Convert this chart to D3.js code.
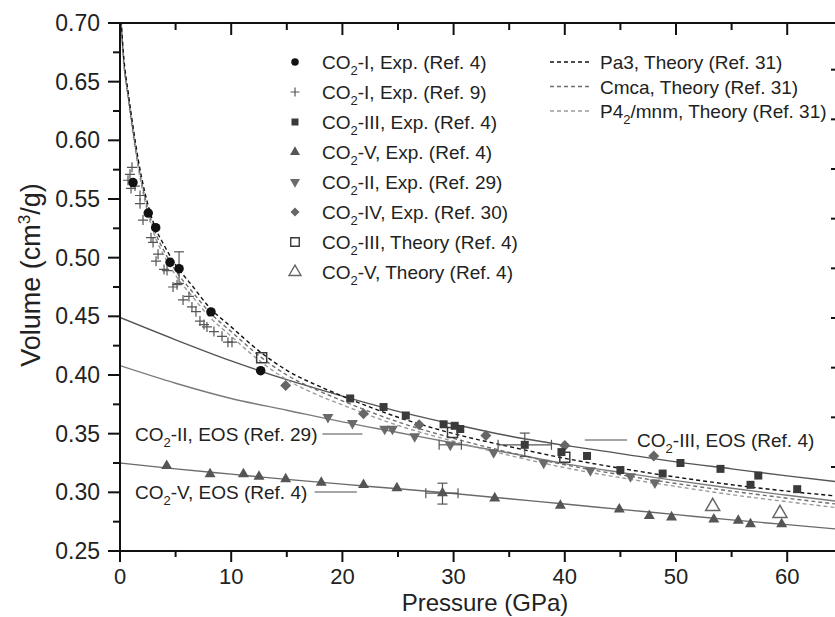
<!DOCTYPE html>
<html>
<head>
<meta charset="utf-8">
<script src="https://cdn.jsdelivr.net/npm/d3@7"></script>
<style>
    body { margin: 0; background: #fff; }
    svg text { font-family: "Liberation Sans", Arial, Helvetica, sans-serif; fill: #222; }
</style>
</head>
<body>
<div id="chart"></div>
<script>

// ---- data (pressure GPa, volume cm3/g) ----

let co2I_ref4 = [[1.17, 0.564], [2.54, 0.538], [3.21, 0.5256], [4.5, 0.496], [5.31, 0.4906], [8.18, 0.4538], [12.65, 0.4037]];

let co2I_ref9 = [[1.08, 0.577], [0.90, 0.571], [0.72, 0.566], [0.99, 0.559], [1.35, 0.561], [1.80, 0.553], [1.80, 0.546],
    [2.07, 0.532], [2.79, 0.517], [2.97, 0.513], [3.42, 0.503], [3.24, 0.497], [3.96, 0.490], [4.23, 0.489],
    [4.77, 0.475], [5.13, 0.477], [5.67, 0.464], [6.2, 0.467], [6.47, 0.458], [6.83, 0.454], [7.19, 0.446],
    [7.55, 0.443], [7.82, 0.441], [8.45, 0.437], [9.17, 0.433], [9.71, 0.428], [10.07, 0.428]];

let co2III_exp = [[20.7, 0.380], [23.7, 0.3727], [25.7, 0.3655], [29.1, 0.358], [30.1, 0.3567], [30.6, 0.354],
    [36.4, 0.3405], [39.7, 0.3343], [42.0, 0.331], [45.0, 0.319], [48.8, 0.316], [50.4, 0.325], [54.0, 0.320],
    [56.7, 0.3064], [57.4, 0.3143], [60.9, 0.3027]];

let co2V_exp = [[4.2, 0.3226], [8.1, 0.3155], [11.1, 0.3155], [12.5, 0.3135], [14.9, 0.3112], [18.1, 0.3083],
    [21.9, 0.3064], [24.9, 0.3036], [29.0, 0.2993], [33.7, 0.295], [39.6, 0.2887], [44.9, 0.2856], [47.6, 0.280],
    [49.6, 0.2788], [53.4, 0.277], [55.6, 0.2759], [56.7, 0.273], [59.5, 0.273]];

let co2II_exp = [[18.7, 0.364], [20.9, 0.359], [23.8, 0.354], [24.5, 0.354], [26.5, 0.3476], [29.7, 0.3405],
    [33.6, 0.334], [38.1, 0.325], [42.3, 0.3186], [45.9, 0.3135], [48.1, 0.3083]];

let co2IV_exp = [[14.9, 0.391], [21.9, 0.367], [26.9, 0.3576], [32.9, 0.3485], [40.0, 0.340], [48.0, 0.331]];

let co2III_theory = [[12.74, 0.4146], [29.9, 0.351], [40.0, 0.330]];
let co2V_theory = [[53.3, 0.288], [59.35, 0.282]];

// error bars: [P, V, P low, P high, V low, V high]
let errorBars = [
    [5.31, 0.4906, null, null, 0.478, 0.505],
    [29.7, 0.3405, 28.7, 30.7, null, null],
    [36.4, 0.3405, 34.0, 38.8, 0.3305, 0.3505],
    [29.0, 0.2993, 27.5, 30.4, 0.290, 0.3078]
];

// EOS fits (solid)
let eosIII = [[0, 0.449], [5, 0.430], [10, 0.412], [15, 0.396], [20, 0.382], [25, 0.369], [30, 0.358], [35, 0.348],
    [40, 0.340], [45, 0.333], [50, 0.326], [55, 0.320], [60, 0.314], [70, 0.303]];
let eosII = [[0, 0.408], [5, 0.393], [10, 0.380], [15, 0.370], [20, 0.360], [25, 0.351], [30, 0.342], [35, 0.3335],
    [40, 0.3245], [45, 0.317], [50, 0.310], [55, 0.3035], [60, 0.2975], [70, 0.286]];
let eosV = [[0, 0.325], [5, 0.320], [10, 0.3155], [15, 0.311], [20, 0.307], [25, 0.303], [30, 0.299], [35, 0.2945],
    [40, 0.290], [45, 0.2855], [50, 0.281], [55, 0.2765], [60, 0.2725], [70, 0.264]];

// theory Ref. 31 (dashed)
let pa3 = [[0, 0.720], [0.3, 0.675], [0.75, 0.640], [1.2, 0.610], [1.65, 0.583], [2.25, 0.555], [3, 0.530], [4, 0.510],
    [5, 0.494], [6.5, 0.476], [8, 0.458], [10, 0.441], [12.7, 0.419], [15, 0.404], [18, 0.390], [20, 0.382],
    [25, 0.364], [30, 0.350], [35, 0.339], [40, 0.329], [45, 0.3205], [50, 0.313], [55, 0.3065], [60, 0.301], [70, 0.2925]];
let cmca = [[0, 0.718], [0.3, 0.672], [0.75, 0.637], [1.2, 0.606], [1.65, 0.579], [2.25, 0.551], [3, 0.526], [4, 0.505],
    [5, 0.489], [6.5, 0.471], [8, 0.454], [10, 0.437], [12.7, 0.415], [15, 0.400], [18, 0.386], [20, 0.378],
    [25, 0.360], [30, 0.346], [35, 0.334], [40, 0.3235], [45, 0.315], [50, 0.3075], [55, 0.301], [60, 0.295], [70, 0.284]];
let p42 = [[0, 0.716], [0.3, 0.669], [0.75, 0.634], [1.2, 0.603], [1.65, 0.576], [2.25, 0.548], [3, 0.522], [4, 0.501],
    [5, 0.485], [6.5, 0.467], [8, 0.450], [10, 0.433], [12.7, 0.411], [15, 0.396], [18, 0.382], [20, 0.3745],
    [25, 0.357], [30, 0.3435], [35, 0.3315], [40, 0.321], [45, 0.3125], [50, 0.305], [55, 0.298], [60, 0.292], [70, 0.281]];

// axis ticks
let xTicks = [0, 10, 20, 30, 40, 50, 60, 70];
let xMinor = [5, 15, 25, 35, 45, 55, 65];
let yTicks = [0.25, 0.30, 0.35, 0.40, 0.45, 0.50, 0.55, 0.60, 0.65, 0.70];
let yMinor = [0.275, 0.325, 0.375, 0.425, 0.475, 0.525, 0.575, 0.625, 0.675];
let rightTicks = [1, 2, 3, 4, 5, 6, 7, 8, 9];

// ---- drawing ----

let width = 835, height = 617;
let margin = {left: 120, top: 23, bottom: 551};

let svg = d3.select("#chart").append("svg")
    .attr("width", width)
    .attr("height", height);

let x = d3.scaleLinear().domain([0, 70]).range([margin.left, margin.left + 70 * 11.12]);
let y = d3.scaleLinear().domain([0.25, 0.70]).range([margin.bottom, margin.top]);
let yRight = d3.scaleLinear().domain([0, 9]).range([20, 467]);

svg.append("clipPath").attr("id", "plotClip")
    .append("rect")
    .attr("x", x(0)).attr("y", y(0.70))
    .attr("width", x(70) - x(0)).attr("height", y(0.25) - y(0.70));

let plot = svg.append("g").attr("clip-path", "url(#plotClip)");

let line = d3.line()
    .x(d => x(d[0]))
    .y(d => y(d[1]))
    .curve(d3.curveMonotoneX);

// solid EOS curves
[[eosIII, "#555"], [eosII, "#7a7a7a"], [eosV, "#6a6a6a"]].forEach(c => {
    plot.append("path")
        .attr("d", line(c[0]))
        .attr("fill", "none")
        .attr("stroke", c[1])
        .attr("stroke-width", 1.4);
});

// dashed theory curves
[[p42, "#9a9a9a"], [cmca, "#6e6e6e"], [pa3, "#111"]].forEach(c => {
    plot.append("path")
        .attr("d", line(c[0]))
        .attr("fill", "none")
        .attr("stroke", c[1])
        .attr("stroke-width", 1.4)
        .attr("stroke-dasharray", "4,3");
});

// error bars
let errG = plot.append("g").attr("stroke", "#555").attr("stroke-width", 1.2);
errorBars.forEach(e => {
    if (e[2] !== null) {
        errG.append("line").attr("x1", x(e[2])).attr("x2", x(e[3])).attr("y1", y(e[1])).attr("y2", y(e[1]));
        errG.append("line").attr("x1", x(e[2])).attr("x2", x(e[2])).attr("y1", y(e[1]) - 5).attr("y2", y(e[1]) + 5);
        errG.append("line").attr("x1", x(e[3])).attr("x2", x(e[3])).attr("y1", y(e[1]) - 5).attr("y2", y(e[1]) + 5);
    }
    if (e[4] !== null) {
        errG.append("line").attr("x1", x(e[0])).attr("x2", x(e[0])).attr("y1", y(e[4])).attr("y2", y(e[5]));
        errG.append("line").attr("x1", x(e[0]) - 5).attr("x2", x(e[0]) + 5).attr("y1", y(e[4])).attr("y2", y(e[4]));
        errG.append("line").attr("x1", x(e[0]) - 5).attr("x2", x(e[0]) + 5).attr("y1", y(e[5])).attr("y2", y(e[5]));
    }
});

// marker shapes
let markers = {
    circle: s => d3.symbol(d3.symbolCircle, s * s * 0.785)(),
    square: s => d3.symbol(d3.symbolSquare, s * s)(),
    triUp: s => d3.symbol(d3.symbolTriangle, s * s * 0.433)(),
    triDown: s => d3.symbol(d3.symbolTriangle, s * s * 0.433)(),
    diamond: s => `M0,${-s / 2}L${s / 2},0L0,${s / 2}L${-s / 2},0Z`,
    plus: s => `M${-s / 2},0H${s / 2}M0,${-s / 2}V${s / 2}`
};

let series = [
    {data: co2I_ref9, shape: "plus", size: 10, fill: "none", stroke: "#555", sw: 1.2},
    {data: co2V_exp, shape: "triUp", size: 11, fill: "#555", stroke: "none"},
    {data: co2II_exp, shape: "triDown", size: 11, fill: "#6a6a6a", stroke: "none"},
    {data: co2IV_exp, shape: "diamond", size: 11, fill: "#666", stroke: "none"},
    {data: co2III_exp, shape: "square", size: 8, fill: "#3a3a3a", stroke: "none"},
    {data: co2I_ref4, shape: "circle", size: 9.5, fill: "#111", stroke: "none"},
    {data: co2III_theory, shape: "square", size: 10, fill: "none", stroke: "#3a3a3a", sw: 1.5},
    {data: co2V_theory, shape: "triUp", size: 14, fill: "none", stroke: "#666", sw: 1.5}
];

series.forEach(s => {
    plot.append("g").selectAll("path")
        .data(s.data)
        .enter()
        .append("path")
        .attr("d", markers[s.shape](s.size))
        .attr("transform", d => `translate(${x(d[0])},${y(d[1])})` + (s.shape === "triDown" ? " rotate(180)" : ""))
        .attr("fill", s.fill)
        .attr("stroke", s.stroke)
        .attr("stroke-width", s.sw || 0);
});

// ---- axes ----
let axisG = svg.append("g").attr("stroke", "#111").attr("stroke-width", 2);

// frame lines
axisG.append("line").attr("x1", x(0)).attr("x2", width).attr("y1", y(0.25)).attr("y2", y(0.25));
axisG.append("line").attr("x1", x(0)).attr("x2", width).attr("y1", y(0.70)).attr("y2", y(0.70));
axisG.append("line").attr("x1", x(0)).attr("x2", x(0)).attr("y1", y(0.70) - 1).attr("y2", y(0.25) + 1);

// bottom ticks (outward) and top ticks (inward)
xTicks.forEach(t => {
    axisG.append("line").attr("x1", x(t)).attr("x2", x(t)).attr("y1", y(0.25)).attr("y2", y(0.25) + 11);
    axisG.append("line").attr("x1", x(t)).attr("x2", x(t)).attr("y1", y(0.70)).attr("y2", y(0.70) + 12);
});
xMinor.forEach(t => {
    axisG.append("line").attr("x1", x(t)).attr("x2", x(t)).attr("y1", y(0.25)).attr("y2", y(0.25) + 6);
    axisG.append("line").attr("x1", x(t)).attr("x2", x(t)).attr("y1", y(0.70)).attr("y2", y(0.70) + 7);
});
// left ticks (outward)
yTicks.forEach(t => {
    axisG.append("line").attr("x1", x(0) - 12).attr("x2", x(0)).attr("y1", y(t)).attr("y2", y(t));
});
yMinor.forEach(t => {
    axisG.append("line").attr("x1", x(0) - 7).attr("x2", x(0)).attr("y1", y(t)).attr("y2", y(t));
});
// right-hand ticks, only their ends show at the cut edge
rightTicks.forEach(t => {
    axisG.append("line").attr("x1", width - 4).attr("x2", width).attr("y1", yRight(t)).attr("y2", yRight(t));
});

// tick labels
svg.append("g").selectAll("text")
    .data(xTicks.filter(t => x(t) < width))
    .enter().append("text")
    .attr("x", d => x(d))
    .attr("y", 584)
    .attr("text-anchor", "middle")
    .style("font-size", "22px")
    .text(d => d);

svg.append("g").selectAll("text")
    .data(yTicks)
    .enter().append("text")
    .attr("x", 100)
    .attr("y", d => y(d) + 8)
    .attr("text-anchor", "end")
    .style("font-size", "23px")
    .text(d => d3.format(".2f")(d));

// axis titles
svg.append("text")
    .attr("x", 485)
    .attr("y", 611)
    .attr("text-anchor", "middle")
    .style("font-size", "24px")
    .text("Pressure (GPa)");

let yTitle = svg.append("text")
    .attr("transform", `translate(40, 275) rotate(-90)`)
    .attr("text-anchor", "middle")
    .style("font-size", "27px");
yTitle.append("tspan").text("Volume (cm");
yTitle.append("tspan").attr("dy", -10).style("font-size", "17px").text("3");
yTitle.append("tspan").attr("dy", 10).text("/g)");

// helper for "CO2-..." labels with subscript
function co2Label(sel, rest) {
    sel.append("tspan").text("CO");
    sel.append("tspan").attr("dy", 6).style("font-size", "13px").text("2");
    sel.append("tspan").attr("dy", -6).text(rest);
}

// ---- legend, left column ----
let legendLeft = [
    {shape: "circle", size: 7.5, fill: "#111", stroke: "none", rest: "-I, Exp. (Ref. 4)"},
    {shape: "plus", size: 9, fill: "none", stroke: "#555", sw: 1.2, rest: "-I, Exp. (Ref. 9)"},
    {shape: "square", size: 7, fill: "#3a3a3a", stroke: "none", rest: "-III, Exp. (Ref. 4)"},
    {shape: "triUp", size: 10, fill: "#555", stroke: "none", rest: "-V, Exp. (Ref. 4)"},
    {shape: "triDown", size: 10, fill: "#6a6a6a", stroke: "none", rest: "-II, Exp. (Ref. 29)"},
    {shape: "diamond", size: 9, fill: "#666", stroke: "none", rest: "-IV, Exp. (Ref. 30)"},
    {shape: "square", size: 8.5, fill: "none", stroke: "#3a3a3a", sw: 1.4, rest: "-III, Theory (Ref. 4)"},
    {shape: "triUp", size: 12, fill: "none", stroke: "#666", sw: 1.4, rest: "-V, Theory (Ref. 4)"}
];

legendLeft.forEach((l, i) => {
    let yy = 62 + i * 30;
    svg.append("path")
        .attr("d", markers[l.shape](l.size))
        .attr("transform", `translate(295,${yy})` + (l.shape === "triDown" ? " rotate(180)" : ""))
        .attr("fill", l.fill)
        .attr("stroke", l.stroke)
        .attr("stroke-width", l.sw || 0);
    let t = svg.append("text")
        .attr("x", 322)
        .attr("y", yy + 7)
        .style("font-size", "19px");
    co2Label(t, l.rest);
});

// ---- legend, right column ----
let legendRight = [
    {color: "#111", label: ["Pa3, Theory (Ref. 31)"]},
    {color: "#6e6e6e", label: ["Cmca, Theory (Ref. 31)"]},
    {color: "#9a9a9a", label: ["P4", "2", "/mnm, Theory (Ref. 31)"]}
];

legendRight.forEach((l, i) => {
    let yy = 62 + i * 24.5;
    svg.append("line")
        .attr("x1", 550).attr("x2", 592)
        .attr("y1", yy).attr("y2", yy)
        .attr("stroke", l.color)
        .attr("stroke-width", 1.4)
        .attr("stroke-dasharray", "4,3");
    let t = svg.append("text")
        .attr("x", 600)
        .attr("y", yy + 7)
        .style("font-size", "19px");
    t.append("tspan").text(l.label[0]);
    if (l.label.length > 1) {
        t.append("tspan").attr("dy", 6).style("font-size", "13px").text(l.label[1]);
        t.append("tspan").attr("dy", -6).text(l.label[2]);
    }
});

// ---- EOS labels with leader lines ----
let eosLabels = [
    {p: 1.35, v: 0.3497, rest: "-II, EOS (Ref. 29)", l1: 18.2, l2: 21.8},
    {p: 1.35, v: 0.3003, rest: "-V, EOS (Ref. 4)", l1: 17.5, l2: 21.3},
    {p: 46.5, v: 0.3446, rest: "-III, EOS (Ref. 4)", l1: 41.8, l2: 45.6}
];

eosLabels.forEach(l => {
    svg.append("line")
        .attr("x1", x(l.l1)).attr("x2", x(l.l2))
        .attr("y1", y(l.v)).attr("y2", y(l.v))
        .attr("stroke", "#888")
        .attr("stroke-width", 1.6);
    let t = svg.append("text")
        .attr("x", x(l.p))
        .attr("y", y(l.v) + 7)
        .style("font-size", "19px");
    co2Label(t, l.rest);
});

</script>
</body>
</html>
